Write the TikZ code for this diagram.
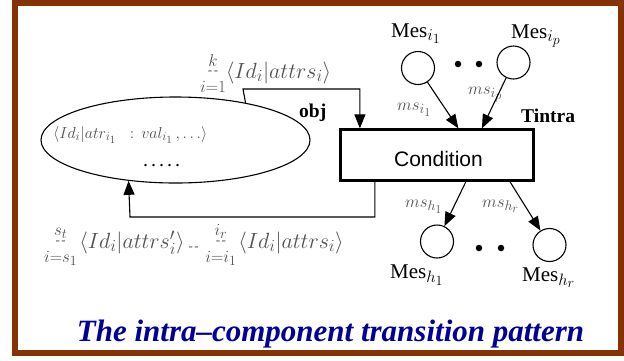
\RequirePackage{fix-cm}
\documentclass[tikz,border=0pt]{standalone}
\usepackage{amsmath}
\usepackage[no-math]{fontspec}
\setmainfont{Liberation Serif}
\setsansfont{Liberation Sans}
\usetikzlibrary{arrows.meta,shapes.geometric,calc}
\DeclareMathSizes{22}{22}{17}{14}
\DeclareMathSizes{21}{21}{16.5}{14}
\DeclareMathSizes{17}{17}{14}{12}
\DeclareMathSizes{16}{16}{12.5}{11}
\definecolor{framebrown}{RGB}{133,51,5}
\definecolor{titleblue}{RGB}{0,0,150}
\definecolor{mathgray}{RGB}{80,80,80}
\newcommand{\dashop}{\mathop{\vcenter{\hbox{\fontsize{13}{13}\selectfont -\kern1.5pt-}}}\limits}
\tikzset{
  conn/.style={line width=1.1pt, -{Triangle[length=14pt,width=11pt]}},
  place/.style={circle, draw, line width=1.1pt, minimum size=33pt, inner sep=0pt},
  tok/.style={circle, fill, minimum size=6.5pt, inner sep=0pt},
  meslbl/.style={anchor=base west, inner sep=0pt, font=\fontsize{21}{25}\selectfont},
  arclbl/.style={anchor=base west, inner sep=0pt, text=mathgray, font=\fontsize{17}{20}\selectfont},
  boldlbl/.style={anchor=base west, inner sep=0pt, font=\fontsize{19.5}{23}\selectfont\bfseries},
  biglbl/.style={anchor=base west, inner sep=0pt, text=mathgray, font=\fontsize{22}{26}\selectfont},
}
\begin{document}
\begin{tikzpicture}[x=1pt,y=-1pt]
\useasboundingbox (0,0) rectangle (624,360);
\draw[framebrown, line width=6pt] (15,3) rectangle (621,353);

% object place (ellipse)
\node[ellipse, draw, line width=1.1pt, minimum width=269pt, minimum height=86pt, inner sep=0pt] (ell) at (175.5,140) {};
\node[anchor=base west, inner sep=0pt, text=mathgray, font=\fontsize{16}{18}\selectfont] (elltxt) at (53,138)
  {$\langle Id_i|atr_{i_1}\;\;:\,val_{i_1}\,,\ldots\rangle$};
\node[anchor=base, inner sep=0pt, font=\fontsize{20}{24}\selectfont] (elldots) at (161.5,166)
  {.\kern3pt.\kern3pt.\kern3pt.\kern3pt.};
\node[boldlbl] (objlbl) at (299,117) {obj};

% transition
\node[draw, line width=2.2pt, minimum width=193pt, minimum height=51pt, inner sep=0pt] (cond) at (437,155) {};
\node[anchor=base, inner sep=0pt, font=\sffamily\fontsize{21}{25}\selectfont] (condtxt) at (438.5,166) {Condition};
\node[boldlbl] (tintra) at (521,122) {Tintra};

% message places
\node[place] (m1) at (418,68) {};
\node[place] (m2) at (513.5,62.5) {};
\node[place] (m3) at (437,241.5) {};
\node[place] (m4) at (549.5,245) {};
\node[tok] (d1) at (458,64) {};
\node[tok] (d2) at (479,64) {};
\node[tok] (d3) at (479,248) {};
\node[tok] (d4) at (501,248) {};

\node[meslbl] (l1) at (391,37) {Mes$_{i_1}$};
\node[meslbl] (l2) at (511,38) {Mes$_{i_p}$};
\node[meslbl] (l3) at (390,278) {Mes$_{h_1}$};
\node[meslbl] (l4) at (522,281) {Mes$_{h_r}$};

\node[arclbl] (a1) at (397,110) {$ms_{i_1}$};
\node[arclbl] (a2) at (468,94) {$ms_{i_p}$};
\node[arclbl] (a3) at (405,207) {$ms_{h_1}$};
\node[arclbl] (a4) at (482,207) {$ms_{h_r}$};

% coordinates on the transition border
\path (cond.north west) ++(119,0) coordinate (in1);
\path (cond.north west) ++(142.5,0) coordinate (in2);
\path (cond.south west) ++(126.5,0) coordinate (out1);
\path (cond.south west) ++(170.5,0) coordinate (out2);
\path (cond.north west) ++(20.5,0) coordinate (inobj);
\path (cond.south west) ++(35.5,0) coordinate (outobj);

\draw[conn] (m1) -- (in1);
\draw[conn] (m2) -- (in2);
\draw[conn] (out1) -- (m3);
\draw[conn] (out2) -- (m4);

% object arcs
\coordinate (tl) at (243,89);
\coordinate (bl) at (130,217);
\draw[conn] (ell.28.9) -- (tl) -| (inobj);
\draw[conn] (outobj) |- (bl) -- (ell.221.7);

\node[biglbl] (toplbl) at (200,78)
  {$\dashop_{i=1}^{k}\langle Id_i|attrs_i\rangle$};
\node[biglbl] (botlbl) at (44,248)
  {$\dashop_{i=s_1}^{s_t}\kern2pt\langle Id_i|attrs'_i\rangle\kern4pt\raisebox{-2pt}{\fontsize{13}{13}\selectfont -\kern1.5pt-}\kern3pt\dashop_{i=i_1}^{i_r}\kern2pt\langle Id_i|attrs_i\rangle$};

\node[anchor=base, inner sep=0pt, text=titleblue, font=\fontsize{31}{36}\selectfont\bfseries\itshape] (title) at (330.5,341)
  {The intra–component transition pattern};
\end{tikzpicture}
\end{document}
